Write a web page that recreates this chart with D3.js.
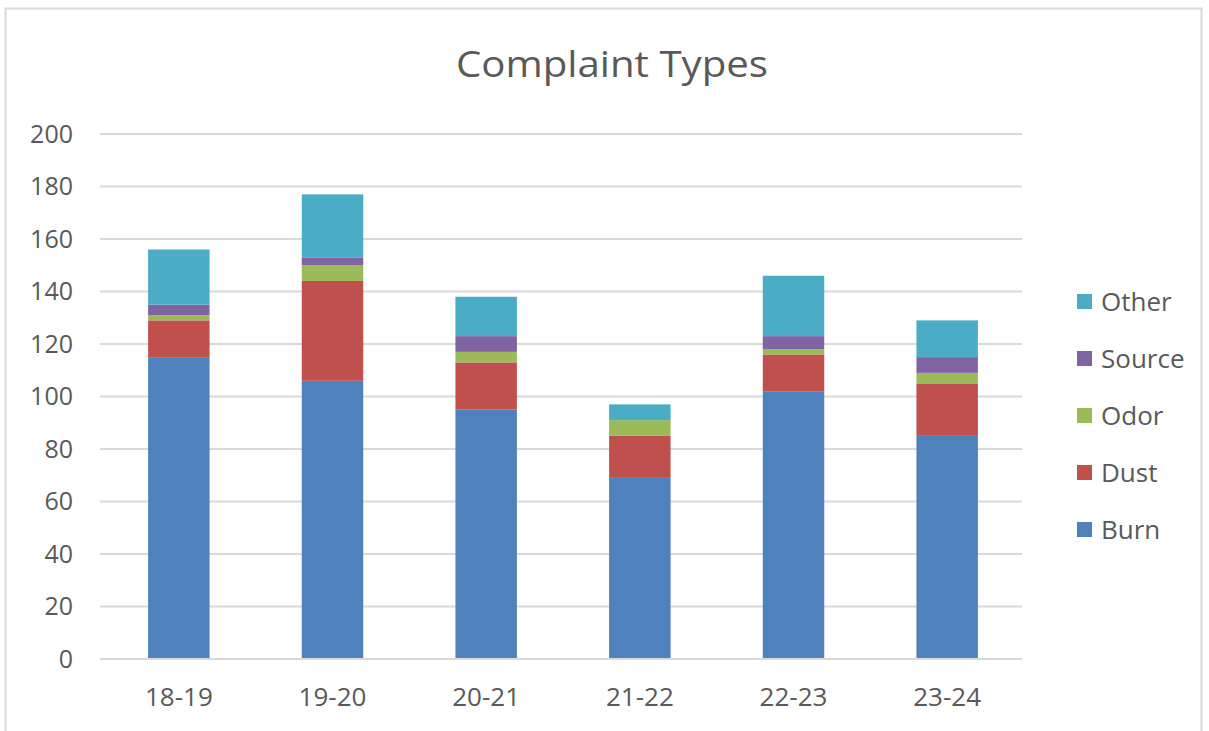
<!DOCTYPE html>
<html>
<head>
<meta charset="utf-8">
<script src="https://cdn.jsdelivr.net/npm/d3@7"></script>
<style>
  body { margin: 0; background: #fff; }
  text { font-family: "Open Sans", Lato, sans-serif; fill: #595959; }
</style>
</head>
<body>
<div id="chart"></div>
<script>
var years = ["18-19", "19-20", "20-21", "21-22", "22-23", "23-24"];
var seriesNames = ["Burn", "Dust", "Odor", "Source", "Other"];
var burn = [115, 106, 95, 69, 102, 85];
var dust = [14, 38, 18, 16, 14, 20];
var odor = [2, 6, 4, 6, 2, 4];
var source = [4, 3, 6, 0, 5, 6];
var other = [21, 24, 15, 6, 23, 14];
var yTicks = [0, 20, 40, 60, 80, 100, 120, 140, 160, 180, 200];
var colors = ["#4f81bd", "#c0504d", "#9bbb59", "#8064a2", "#4bacc6"];

var svgWidth = 1209;
var svgHeight = 731;
var margin = { top: 134, right: 187, bottom: 72, left: 100 };
var width = svgWidth - margin.left - margin.right;
var height = svgHeight - margin.top - margin.bottom;

var svg = d3.select("#chart")
    .append("svg")
    .attr("width", svgWidth)
    .attr("height", svgHeight);

// outer frame
svg.append("rect")
    .attr("x", 5.5).attr("y", 8.5)
    .attr("width", 1196).attr("height", 740)
    .attr("fill", "none")
    .attr("stroke", "#d9d9d9")
    .attr("stroke-width", 2);

svg.append("text")
    .attr("x", 612)
    .attr("y", 77)
    .attr("text-anchor", "middle")
    .attr("font-size", 36)
    .attr("textLength", 312)
    .attr("lengthAdjust", "spacingAndGlyphs")
    .text("Complaint Types");

var chartGroup = svg.append("g")
    .attr("transform", `translate(${margin.left}, ${margin.top})`);

var table = years.map(function (y, i) {
    return { year: y, Burn: burn[i], Dust: dust[i], Odor: odor[i], Source: source[i], Other: other[i] };
});
var stacked = d3.stack().keys(seriesNames)(table);

var xScale = d3.scaleBand()
    .domain(years)
    .range([2, width + 2])
    .paddingInner(0.6)
    .paddingOuter(0.3);

var yScale = d3.scaleLinear()
    .domain([0, 200])
    .range([height, 0]);

// gridlines
chartGroup.append("g")
    .selectAll("line")
    .data(yTicks)
    .enter()
    .append("line")
    .attr("x1", 0)
    .attr("x2", width)
    .attr("y1", d => yScale(d))
    .attr("y2", d => yScale(d))
    .attr("stroke", "#d9d9d9")
    .attr("stroke-width", 2);

var leftAxis = d3.axisLeft(yScale).tickValues(yTicks).tickSize(0).tickPadding(27);
var yAxisG = chartGroup.append("g").call(leftAxis);
yAxisG.select(".domain").remove();
yAxisG.selectAll("text").attr("font-size", 25).attr("fill", "#595959")
    .attr("font-family", "'Open Sans', sans-serif");

chartGroup.append("g")
    .selectAll("g")
    .data(stacked)
    .enter()
    .append("g")
    .attr("fill", (d, i) => colors[i])
    .selectAll("rect")
    .data(d => d)
    .enter()
    .append("rect")
    .attr("x", d => xScale(d.data.year))
    .attr("y", d => yScale(d[1]))
    .attr("width", xScale.bandwidth())
    .attr("height", d => yScale(d[0]) - yScale(d[1]));

var bottomAxis = d3.axisBottom(xScale).tickSize(0).tickPadding(29);
var xAxisG = chartGroup.append("g")
    .attr("transform", `translate(0, ${height})`)
    .call(bottomAxis);
xAxisG.select(".domain").attr("stroke", "#d9d9d9").attr("stroke-width", 2)
    .attr("d", `M0,0H${width}`);
xAxisG.selectAll("text").attr("font-size", 26).attr("fill", "#595959")
    .attr("font-family", "'Open Sans', sans-serif");

// legend, top to bottom reversed
var legend = svg.append("g");
var legendItems = seriesNames.slice().reverse();
legendItems.forEach(function (name, i) {
    var ci = seriesNames.indexOf(name);
    var cy = 302 + i * 57;
    legend.append("rect")
        .attr("x", 1077).attr("y", cy - 8)
        .attr("width", 15).attr("height", 15)
        .attr("fill", colors[ci]);
    legend.append("text")
        .attr("x", 1101).attr("y", cy)
        .attr("dy", "0.35em")
        .attr("font-size", 26)
        .text(name);
});
</script>
</body>
</html>
